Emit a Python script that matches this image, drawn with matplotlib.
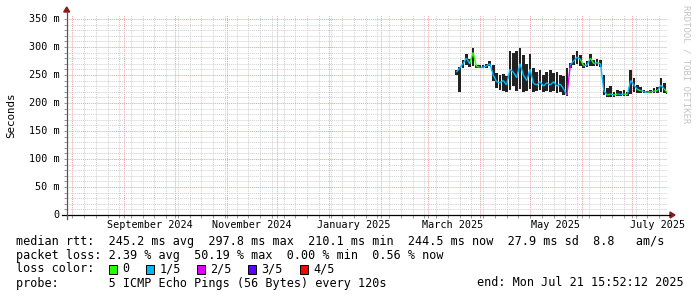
import matplotlib
matplotlib.use("Agg")
import matplotlib.pyplot as plt
import matplotlib.dates as mdates
from matplotlib.collections import LineCollection
from matplotlib.lines import Line2D
from matplotlib.patches import Rectangle, Polygon
import pandas as pd
import numpy as np

# --- data (ms), one sample every 2 days from 18 Mar 2025 ---
sample_start = "2025-03-18"
median_ms = [255, 262, 270, 280, 270, 290, 265, 264, 264, 266, 270, 250, 238, 236, 240, 232,
             260, 255, 245, 270, 250, 240, 260, 235, 232, 238, 230, 236, 232, 238, 230, 234,
             225, 214, 268, 275, 282, 278, 266, 268, 280, 270, 272, 270, 222, 214, 216, 214,
             216, 215, 216, 215, 240, 232, 224, 222, 220, 219, 220, 221, 222, 232, 225, 218]
smoke_lo_ms = [250, 220, 262, 268, 264, 266, 262, 262, 262, 263, 266, 240, 226, 224, 222, 220,
               224, 230, 222, 225, 220, 222, 225, 220, 222, 224, 220, 222, 220, 222, 218, 220,
               215, 212, 262, 268, 270, 266, 262, 264, 266, 266, 266, 264, 214, 210, 210, 211,
               212, 212, 212, 212, 216, 220, 218, 218, 218, 217, 218, 218, 218, 220, 218, 216]
smoke_hi_ms = [258, 265, 276, 288, 278, 298, 268, 267, 267, 269, 274, 268, 254, 250, 252, 248,
               292, 290, 292, 298, 285, 270, 288, 262, 255, 258, 250, 256, 258, 254, 256, 250,
               248, 262, 272, 285, 292, 286, 272, 274, 288, 276, 278, 276, 250, 226, 230, 220,
               224, 222, 224, 220, 258, 244, 232, 228, 224, 222, 224, 226, 228, 245, 236, 222]
# loss class per sample: 0 = no loss, 1 = 1/5, 2 = 2/5 ...
loss_class = [1, 1, 1, 1, 1, 0, 0, 0, 1, 1, 1, 1, 1, 1, 1, 1,
              1, 1, 1, 1, 1, 1, 1, 1, 1, 1, 1, 1, 1, 1, 1, 1,
              1, 1, 2, 1, 1, 1, 0, 1, 1, 0, 1, 0, 1, 1, 0, 1,
              0, 1, 1, 0, 1, 1, 1, 0, 1, 1, 0, 1, 0, 1, 1, 0]

loss_labels = ["0", "1/5", "2/5", "3/5", "4/5"]
loss_colors = ["#26ff00", "#00b8ff", "#dd00ff", "#5e00ff", "#ff0000"]

y_ticks = [0, 50, 100, 150, 200, 250, 300, 350]
month_labels = ["September 2024", "November 2024", "January 2025",
                "March 2025", "May 2025", "July 2025"]
label_dates = ["2024-09-16", "2024-11-16", "2025-01-16", "2025-03-16", "2025-05-16", "2025-07-16"]

legend_rows = [
    "median rtt:  245.2 ms avg  297.8 ms max  210.1 ms min  244.5 ms now  27.9 ms sd  8.8   am/s",
    "packet loss: 2.39 % avg  50.19 % max  0.00 % min  0.56 % now",
    "loss color:",
    "probe:       5 ICMP Echo Pings (56 Bytes) every 120s",
]
end_text = "end: Mon Jul 21 15:52:12 2025"

end_time = pd.Timestamp("2025-07-21 15:52:12")
start_time = end_time - pd.Timedelta(days=358)

W, H = 697, 297
MONO = "DejaVu Sans Mono"
FS = 8.5      # legend block
AFS = 7.3     # axis labels


def fx(x):
    return x / W


def fy(y):
    return 1 - y / H


fig = plt.figure(figsize=(W / 100, H / 100), dpi=100, facecolor="white")
x0, x1, ytop, ybot = 66.7, 667, 15, 215
ax = fig.add_axes([fx(x0), fy(ybot), fx(x1) - fx(x0), fy(ytop) - fy(ybot)])
ax.set_facecolor("white")

t = pd.date_range(sample_start, periods=len(median_ms), freq="2D")
tn = mdates.date2num(t.to_pydatetime())
lo = np.array(smoke_lo_ms)
hi = np.array(smoke_hi_ms)

ax.set_xlim(mdates.date2num(start_time.to_pydatetime()), mdates.date2num(end_time.to_pydatetime()))
ax.set_ylim(0, 357)

# grid
ax.xaxis.set_major_locator(mdates.MonthLocator())
ax.xaxis.set_minor_locator(mdates.WeekdayLocator(byweekday=mdates.TH))
ax.yaxis.set_major_locator(plt.FixedLocator(y_ticks))
ax.yaxis.set_minor_locator(plt.MultipleLocator(10))
ax.grid(which="minor", color="#cfcfcf", linestyle=(0, (1, 1)), linewidth=0.7)
ax.grid(which="major", color="#f0a0a0", linestyle=(0, (1, 1)), linewidth=0.7)
ax.set_axisbelow(True)
ax.tick_params(which="both", labelbottom=False, labelleft=False, length=2, width=0.6, color="#888888")
for s in ax.spines.values():
    s.set_visible(False)

# smoke + median
ax.bar(tn, hi - lo, bottom=lo, width=1.6, color="#222222", linewidth=0, zorder=3)
pts = np.column_stack([tn, median_ms])
segs = np.stack([pts[:-1], pts[1:]], axis=1)
seg_colors = [loss_colors[c] for c in loss_class[1:]]
ax.add_collection(LineCollection(segs, colors=seg_colors, linewidths=1.0, zorder=4))

# tick labels
for v in y_ticks:
    ax.text(-0.012, v, f"{v} m" if v else "0", transform=ax.get_yaxis_transform(),
            ha="right", va="center", family=MONO, fontsize=AFS)
for lab, d in zip(month_labels, label_dates):
    ax.text(mdates.date2num(pd.Timestamp(d).to_pydatetime()), -0.05, lab,
            transform=ax.get_xaxis_transform(), ha="center", va="center",
            family=MONO, fontsize=AFS, clip_on=False)

# axes with arrows
fig.add_artist(Line2D([fx(62), fx(670)], [fy(ybot), fy(ybot)], color="black", lw=0.9))
fig.add_artist(Line2D([fx(x0), fx(x0)], [fy(219), fy(12)], color="#555555", lw=0.9))
fig.add_artist(Polygon([[fx(670), fy(212)], [fx(675), fy(215)], [fx(670), fy(218)]],
                       closed=True, color="#8b1a1a", transform=fig.transFigure))
fig.add_artist(Polygon([[fx(63.7), fy(12)], [fx(x0), fy(7)], [fx(69.7), fy(12)]],
                       closed=True, color="#8b1a1a", transform=fig.transFigure))

fig.text(fx(11), fy(115), "Seconds", rotation=90, ha="center", va="center",
         family=MONO, fontsize=AFS + 0.5)
fig.text(fx(686), fy(5), "RRDTOOL / TOBI OETIKER", rotation=-90, ha="center", va="top",
         family=MONO, fontsize=6.5, color="#c4c4c4")

# legend block
row_y = [241, 255, 269, 283]
for txt, y in zip(legend_rows, row_y):
    fig.text(fx(16), fy(y), txt, ha="left", va="center", family=MONO, fontsize=FS)
fig.text(fx(684), fy(283), end_text, ha="right", va="center", family=MONO, fontsize=FS)

box_x = [108.5, 146, 197, 248, 300]
lab_x = [122, 159.5, 210.5, 261.5, 313.5]
for bx, lx, lab, col in zip(box_x, lab_x, loss_labels, loss_colors):
    fig.add_artist(Rectangle((fx(bx), fy(273.5)), 8 / W, 9 / H, transform=fig.transFigure,
                             facecolor=col, edgecolor="black", linewidth=0.7))
    fig.text(fx(lx), fy(269), lab, ha="left", va="center", family=MONO, fontsize=FS)

fig.savefig("out.png", dpi=100, facecolor="white")
